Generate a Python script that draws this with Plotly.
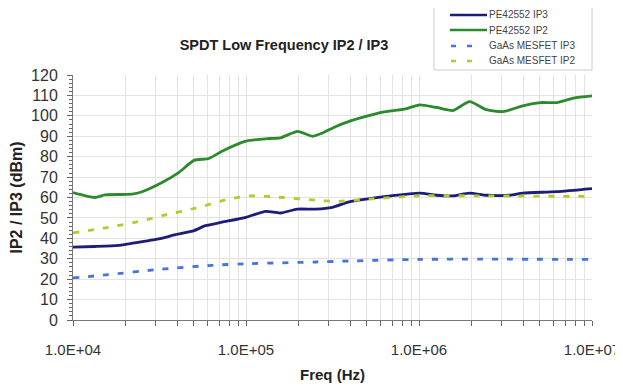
import plotly.graph_objects as go

# PE42552 IP2 (green solid)
ip2_f = [1.00e4, 1.34e4, 1.53e4, 2.19e4, 2.51e4, 3.27e4, 4.08e4, 5.01e4, 6.10e4,
         7.28e4, 1.00e5, 1.36e5, 1.58e5, 1.99e5, 2.43e5, 2.77e5, 3.31e5, 3.95e5,
         4.94e5, 6.17e5, 8.24e5, 1.01e6, 1.26e6, 1.57e6, 1.96e6, 2.45e6, 3.07e6,
         3.98e6, 5.01e6, 6.25e6, 7.82e6, 1.00e7]
ip2_v = [62.4, 60.0, 61.3, 61.6, 62.8, 67.3, 72.2, 78.2, 79.1,
         82.7, 87.6, 88.9, 89.2, 92.4, 90.0, 91.6, 94.8, 97.3,
         99.7, 101.8, 103.3, 105.4, 104.1, 102.6, 107.0, 103.0, 102.1,
         104.9, 106.5, 106.5, 108.7, 109.8]

# PE42552 IP3 (navy solid)
ip3_f = [1.00e4, 1.34e4, 1.83e4, 2.09e4, 3.13e4, 3.91e4, 5.01e4, 5.83e4, 7.28e4,
         1.00e5, 1.30e5, 1.58e5, 1.98e5, 2.53e5, 3.16e5, 3.95e5, 4.94e5, 6.46e5,
         1.01e6, 1.26e6, 1.57e6, 1.96e6, 2.45e6, 3.35e6, 3.98e6, 6.25e6, 1.00e7]
ip3_v = [35.7, 36.0, 36.5, 37.3, 39.7, 41.8, 43.8, 46.2, 47.9,
         50.3, 53.2, 52.4, 54.3, 54.3, 55.2, 57.9, 59.2, 60.5,
         62.1, 61.1, 60.8, 62.1, 61.1, 61.1, 62.1, 62.9, 64.4]

# GaAs MESFET IP2 (yellow-green dashed)
gip2_f = [1.00e4, 1.60e4, 2.51e4, 3.27e4, 5.11e4, 7.94e4, 1.04e5, 1.62e5,
          2.53e5, 3.31e5, 5.11e5, 1.01e6, 2.45e6, 1.00e7]
gip2_v = [42.7, 45.4, 48.6, 51.1, 54.8, 59.2, 60.8, 60.0,
          58.7, 58.1, 59.2, 60.8, 60.8, 60.5]

# GaAs MESFET IP3 (blue dashed)
gip3_f = [1.00e4, 1.60e4, 3.13e4, 6.38e4, 1.04e5, 2.53e5, 3.95e5, 1.00e6, 1.00e7]
gip3_v = [20.6, 22.2, 24.8, 26.8, 27.6, 28.4, 28.9, 29.7, 29.7]

x_major = [1e4, 1e5, 1e6, 1e7]
x_major_text = ["1.0E+04", "1.0E+05", "1.0E+06", "1.0E+07"]

series_names = ["PE42552 IP3", "PE42552 IP2", "GaAs MESFET IP3", "GaAs MESFET IP2"]
series_colors = ["#1c1c7a", "#2b8a2b", "#4673e0", "#b4ca2c"]
series_dash = ["solid", "solid", "6px,9px", "6px,9px"]

tickvals = []
ticktext = []
for d in range(4, 7):
    for m in range(1, 10):
        v = m * 10 ** d
        tickvals.append(v)
        ticktext.append(x_major_text[x_major.index(v)] if v in x_major else "")
tickvals.append(1e7)
ticktext.append("1.0E+07")

# the page body has an 8px default margin, so the figure is drawn 8px in from the corner
OFF = 8
W, H = 623 - OFF, 387 - OFF
ML, MR, MT, MB = 73 - OFF, 31, 75 - OFF, 67
PW, PH = W - ML - MR, H - MT - MB


def px_x(p):
    return (p - OFF - ML) / PW


def px_y(p):
    return (H - MB - (p - OFF)) / PH


fig = go.Figure()
data = [(ip3_f, ip3_v), (ip2_f, ip2_v), (gip3_f, gip3_v), (gip2_f, gip2_v)]
for (xs, ys), name, col, dash in zip(data, series_names, series_colors, series_dash):
    fig.add_trace(go.Scatter(x=xs, y=ys, mode="lines", name=name, showlegend=False,
                             line=dict(color=col, width=2.8, dash=dash, shape="spline", smoothing=0.6)))

# manual legend (box, samples, labels)
shapes = [dict(type="rect", xref="paper", yref="paper",
               x0=px_x(434), x1=px_x(592), y0=px_y(70), y1=px_y(7),
               line=dict(color="#cccccc", width=1), fillcolor="white", layer="above")]
annotations = []
rows = [15, 30, 46, 61]
for name, col, dash, ry in zip(series_names, series_colors, series_dash, rows):
    if dash == "solid":
        shapes.append(dict(type="line", xref="paper", yref="paper",
                           x0=px_x(450), x1=px_x(487), y0=px_y(ry), y1=px_y(ry),
                           line=dict(color=col, width=2.5), layer="above"))
    else:
        shapes.append(dict(type="line", xref="paper", yref="paper",
                           x0=px_x(451), x1=px_x(473), y0=px_y(ry), y1=px_y(ry),
                           line=dict(color=col, width=2.5, dash="5px,11px"), layer="above"))
    annotations.append(dict(text=name, xref="paper", yref="paper", x=px_x(487), y=px_y(ry),
                            xanchor="left", yanchor="middle", showarrow=False,
                            font=dict(size=10, color="#444444")))

fig.update_layout(
    width=W, height=H,
    margin=dict(l=ML, r=MR, t=MT, b=MB, autoexpand=False),
    paper_bgcolor="white", plot_bgcolor="white",
    font=dict(family="Liberation Sans, Arial, sans-serif", color="#333333"),
    title=dict(text="<b>SPDT Low Frequency IP2 / IP3</b>", font=dict(size=14.5, color="#222222"),
               x=(284 - OFF) / W, xanchor="center", y=1 - (45 - OFF) / H, yanchor="middle",
               xref="container", yref="container"),
    showlegend=False,
    shapes=shapes,
    annotations=annotations,
)
fig.update_xaxes(
    type="log", range=[4, 7],
    tickvals=tickvals, ticktext=ticktext,
    ticks="outside", ticklen=5, tickcolor="#666666",
    ticklabelstandoff=11,
    showline=True, linecolor="#777777", linewidth=1,
    showgrid=True, gridcolor="#e3e3e3", gridwidth=1,
    tickfont=dict(size=15, color="#333333"),
    title=dict(text="<b>Freq (Hz)</b>", font=dict(size=15, color="#222222"), standoff=12),
    zeroline=False,
)
fig.update_yaxes(
    range=[0, 120], dtick=10,
    ticks="outside", ticklen=5, tickcolor="#666666",
    ticklabelstandoff=6,
    minor=dict(dtick=2, ticks="outside", ticklen=3, tickcolor="#666666", showgrid=False),
    showline=True, linecolor="#777777", linewidth=1,
    showgrid=True, gridcolor="#e3e3e3", gridwidth=1,
    tickfont=dict(size=16, color="#333333"),
    title=dict(text="<b>IP2 / IP3 (dBm)</b>", font=dict(size=16, color="#222222"), standoff=7),
    zeroline=False,
)

fig.write_html("out.html")
